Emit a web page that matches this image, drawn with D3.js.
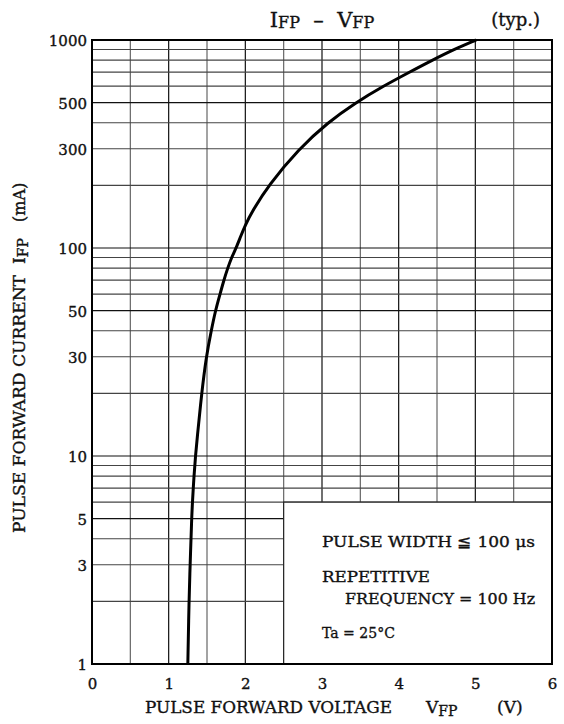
<!DOCTYPE html>
<html>
<head>
<meta charset="utf-8">
<script src="https://cdn.jsdelivr.net/npm/d3@7"></script>
<style>
  body { margin: 0; background: #fff; }
  text { font-family: "DejaVu Serif", serif; fill: #111; stroke: #111; stroke-width: 0.35px; }
</style>
</head>
<body>
<svg id="chart" width="564" height="724"></svg>
<script>
// curve: forward current (mA) vs forward voltage (V)
const currents = [1, 2, 3, 5, 6, 8, 10, 12, 20, 30, 40, 50, 60, 70, 80, 90, 100, 114, 129, 150, 200, 300, 400, 500, 600, 700, 800, 900, 1000];
const voltages = [1.25, 1.265, 1.28, 1.30, 1.31, 1.33, 1.35, 1.37, 1.43, 1.49, 1.555, 1.61, 1.67, 1.72, 1.77, 1.82, 1.88, 1.94, 2.0, 2.09, 2.30, 2.70, 3.07, 3.44, 3.80, 4.14, 4.44, 4.72, 5.01];

const xTicks = [0, 1, 2, 3, 4, 5, 6];
const yTicks = [1, 3, 5, 10, 30, 50, 100, 300, 500, 1000];
const legendLines = ['PULSE WIDTH \u2266 100 \u03bcs', 'REPETITIVE', 'FREQUENCY = 100 Hz', 'Ta = 25\u00b0C'];

const plotL = 92, plotR = 552, plotT = 40, plotB = 664;
const svg = d3.select('#chart');

const x = d3.scaleLinear().domain([0, 6]).range([plotL, plotR]);
const y = d3.scaleLog().domain([1, 1000]).range([plotB, plotT]);

const grid = svg.append('g');

// vertical grid, every 0.5 V
d3.range(0, 6.01, 0.5).forEach((v) => {
  const major = Number.isInteger(v);
  grid.append('line')
    .attr('x1', x(v)).attr('x2', x(v))
    .attr('y1', plotT).attr('y2', plotB)
    .attr('stroke', major ? '#111' : '#666')
    .attr('stroke-width', 1.2);
});

// horizontal grid, 1..9 per decade
[1, 10, 100].forEach((d) => {
  d3.range(1, 10).forEach((m) => {
    const val = d * m;
    grid.append('line')
      .attr('x1', plotL).attr('x2', plotR)
      .attr('y1', y(val)).attr('y2', y(val))
      .attr('stroke', m === 1 || m === 5 ? '#111' : '#444')
      .attr('stroke-width', 1.2);
  });
});

// white note box covering the lower right corner of the grid
svg.append('rect')
  .attr('x', x(2.5)).attr('y', y(6))
  .attr('width', x(6) - x(2.5)).attr('height', y(1) - y(6))
  .attr('fill', '#fff')
  .attr('stroke', '#222')
  .attr('stroke-width', 1.2);

// frame
svg.append('rect')
  .attr('x', plotL).attr('y', plotT)
  .attr('width', plotR - plotL).attr('height', plotB - plotT)
  .attr('fill', 'none')
  .attr('stroke', '#000')
  .attr('stroke-width', 2);

// curve
const line = d3.line()
  .x((d, i) => x(voltages[i]))
  .y((d) => y(d))
  .curve(d3.curveBasis);

svg.append('path')
  .datum(currents)
  .attr('d', line)
  .attr('fill', 'none')
  .attr('stroke', '#000')
  .attr('stroke-width', 3);

// axes (labels only)
const xAxis = svg.append('g')
  .attr('transform', `translate(0,${plotB})`)
  .call(d3.axisBottom(x).tickValues(xTicks).tickSize(0).tickPadding(14).tickFormat(d3.format('d')));
const yAxis = svg.append('g')
  .attr('transform', `translate(${plotL},0)`)
  .call(d3.axisLeft(y).tickValues(yTicks).tickSize(0).tickPadding(5).tickFormat(d3.format('d')));
[xAxis, yAxis].forEach((a) => {
  a.select('.domain').remove();
  a.selectAll('text')
    .style('font-family', '"DejaVu Serif", serif')
    .style('font-size', '15px')
    .attr('fill', '#111');
});
yAxis.selectAll('text').attr('dy', '0.36em');

// title
const title = svg.append('text').attr('x', 322).attr('y', 27).attr('text-anchor', 'middle').style('font-size', '21px')
  .attr('xml:space', 'preserve');
title.append('tspan').text('I');
title.append('tspan').text('FP').style('font-size', '16px').attr('dy', 1);
title.append('tspan').text('  \u2013  V').attr('dy', -1);
title.append('tspan').text('FP').style('font-size', '16px').attr('dy', 1);

svg.append('text').attr('x', 540).attr('y', 26).attr('text-anchor', 'end')
  .style('font-size', '18px').text('(typ.)');

// x label
svg.append('text').attr('x', 145).attr('y', 713).style('font-size', '16px')
  .attr('textLength', 247).attr('lengthAdjust', 'spacingAndGlyphs').text('PULSE FORWARD VOLTAGE');
const xv = svg.append('text').attr('x', 426).attr('y', 713).style('font-size', '17px');
xv.append('tspan').text('V');
xv.append('tspan').text('FP').style('font-size', '14px').attr('dy', 3);
svg.append('text').attr('x', 497).attr('y', 713).style('font-size', '17px').text('(V)');

// y label (rotated)
const yLabel = svg.append('g').attr('transform', 'translate(25,0) rotate(-90)');
yLabel.append('text').attr('x', -533).attr('y', 0).style('font-size', '16px')
  .attr('textLength', 258).attr('lengthAdjust', 'spacingAndGlyphs').text('PULSE FORWARD CURRENT');
const yi = yLabel.append('text').attr('x', -264).attr('y', 0).style('font-size', '17px');
yi.append('tspan').text('I');
yi.append('tspan').text('FP').style('font-size', '14px').attr('dy', 3);
yLabel.append('text').attr('x', -222).attr('y', 0).style('font-size', '16px').text('(mA)');

// note text
const notePos = [[322, 547, 213], [322, 582, 108], [345, 604, 190], [322, 638, 73]];
legendLines.forEach((t, i) => {
  svg.append('text')
    .attr('x', notePos[i][0]).attr('y', notePos[i][1])
    .attr('textLength', notePos[i][2]).attr('lengthAdjust', 'spacingAndGlyphs')
    .style('font-size', '15px')
    .text(t);
});
</script>
</body>
</html>
